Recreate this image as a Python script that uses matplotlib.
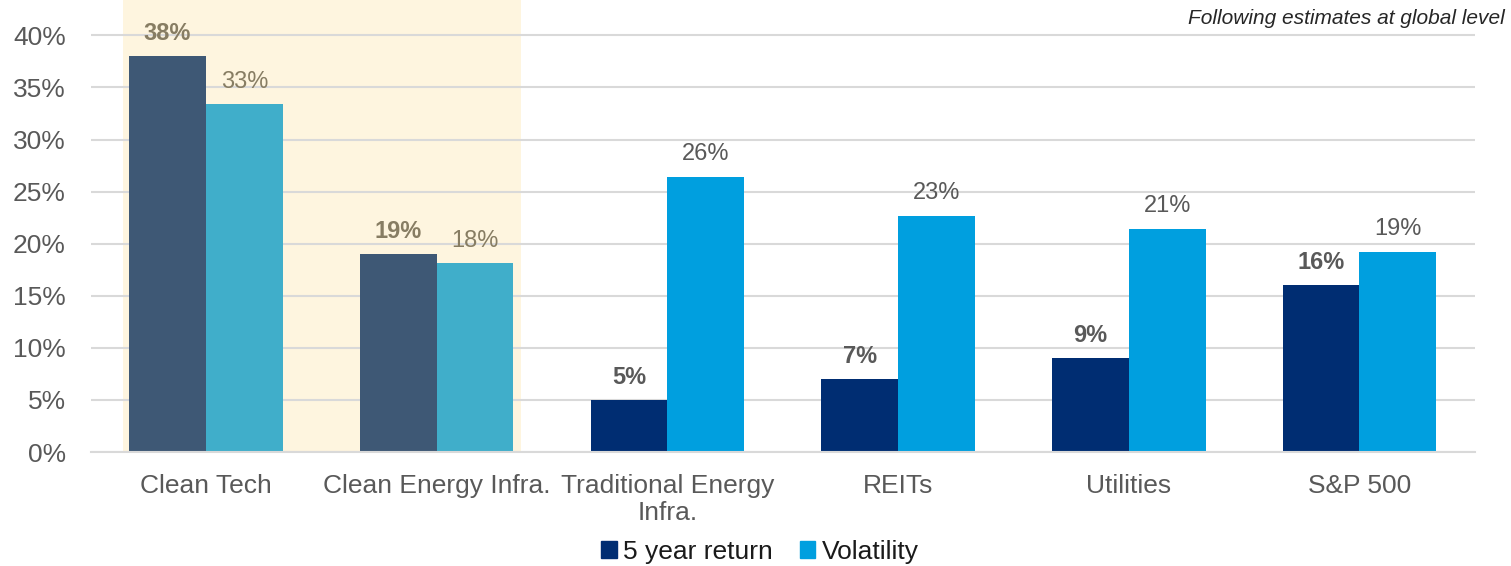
import matplotlib.pyplot as plt
import numpy as np

plt.rcParams['font.family'] = ['Liberation Sans', 'DejaVu Sans']

categories = ["Clean Tech", "Clean Energy Infra.", "Traditional Energy\nInfra.",
              "REITs", "Utilities", "S&P 500"]
five_year_return = [38, 19, 5, 7, 9, 16]
volatility = [33.4, 18.1, 26.4, 22.7, 21.4, 19.2]
highlighted = [True, True, False, False, False, False]
yticks = [0, 5, 10, 15, 20, 25, 30, 35, 40]

navy = "#002D72"
sky = "#009FDF"
slate = "#3E5875"
teal = "#40AECA"
hl_text = "#877D63"
grey_text = "#595959"

fig = plt.figure(figsize=(15.11, 5.66), dpi=100)
ax = fig.add_axes([0.060, 0.2014, 0.916, 0.7986])

x = np.arange(len(categories))
w = 0.333

# shaded block behind the clean energy groups
ax.axvspan(-0.36, 1.365, color="#FEF5DF", zorder=0, lw=0)

ret_colors = [slate if h else navy for h in highlighted]
vol_colors = [teal if h else sky for h in highlighted]
ax.bar(x - w / 2, five_year_return, w, color=ret_colors, zorder=2)
ax.bar(x + w / 2, volatility, w, color=vol_colors, zorder=2)

for i in range(len(categories)):
    c = hl_text if highlighted[i] else grey_text
    ax.annotate(f"{five_year_return[i]:.0f}%", (x[i] - w / 2, five_year_return[i]),
                xytext=(0, 16.3), textcoords="offset points", ha="center", va="center",
                fontsize=17, fontweight="bold", color=c)
    ax.annotate(f"{volatility[i]:.0f}%", (x[i] + w / 2, volatility[i]),
                xytext=(0, 16.3), textcoords="offset points", ha="center", va="center",
                fontsize=17, color=c)

ax.set_xlim(-0.5, len(categories) - 0.5)
ax.set_ylim(0, 43.4)
ax.set_yticks(yticks)
ax.set_yticklabels([f"{v}%" for v in yticks], fontsize=19, color=grey_text)
ax.set_xticks(x)
ax.set_xticklabels(categories, fontsize=19, color=grey_text, linespacing=1.15)
ax.tick_params(length=0, pad=18)
ax.tick_params(axis="x", pad=16)
ax.yaxis.grid(True, color="#D9D9D9", lw=1.5, zorder=0.5)
ax.set_axisbelow(True)
for s in ["top", "right", "left"]:
    ax.spines[s].set_visible(False)
ax.spines["bottom"].set_color("#D9D9D9")
ax.spines["bottom"].set_linewidth(1.5)
ax.patch.set_alpha(0)

handles = [plt.Rectangle((0, 0), 1, 1, color=navy), plt.Rectangle((0, 0), 1, 1, color=sky)]
fig.legend(handles, ["5 year return", "Volatility"], loc="center", bbox_to_anchor=(0.503, 0.025),
           ncol=2, frameon=False, fontsize=19, handlelength=0.6, handleheight=0.6,
           handletextpad=0.25, columnspacing=1.0, labelcolor="#1A1A1A")

fig.text(0.996, 0.968, "Following estimates at global level", ha="right", va="center",
         fontsize=15, style="italic", color="#262626")

fig.savefig("out.png", dpi=100)
